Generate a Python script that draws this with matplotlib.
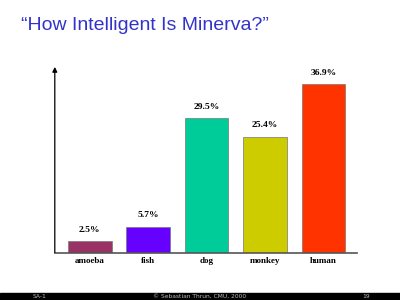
import matplotlib.pyplot as plt
from matplotlib.patches import Rectangle

categories = ["amoeba", "fish", "dog", "monkey", "human"]
values = [2.5, 5.7, 29.5, 25.4, 36.9]
colors = ["#993366", "#6600FF", "#00CC99", "#CCCC00", "#FF3300"]

fig = plt.figure(figsize=(4, 3), dpi=100)
fig.patch.set_facecolor("white")

# title
fig.text(0.052, 0.915, "\u201cHow Intelligent Is Minerva?\u201d", color="#3333CC",
         fontsize=14, family="Liberation Sans", ha="left", va="center")

ax = fig.add_axes([0.137, 0.158, 0.755, 0.619])
x = range(len(categories))
bars = ax.bar(x, values, width=0.75, color=colors, edgecolor="#777777", linewidth=0.5)

for xi, v in zip(x, values):
    ax.text(xi, v + 1.6, f"{v}%", ha="center", va="bottom", fontsize=6.8,
            family="Liberation Serif", fontweight="bold")

ax.set_xlim(-0.595, 4.57)
ax.set_ylim(0, 40.7)
ax.set_xticks(list(x))
ax.set_xticklabels(categories, family="Liberation Serif", fontweight="bold", fontsize=6.5)
ax.tick_params(axis="x", length=0, pad=3)
ax.set_yticks([])

for s in ["top", "right", "left"]:
    ax.spines[s].set_visible(False)
ax.spines["bottom"].set_color("#555555")
ax.spines["bottom"].set_linewidth(1.2)

# y axis with arrow head
ax.annotate("", xy=(0, 1.0), xytext=(0, 0), xycoords="axes fraction",
            arrowprops=dict(arrowstyle="-|>", color="black", lw=0.9,
                            mutation_scale=7, shrinkA=0, shrinkB=0))

# footer bar
fig.patches.append(Rectangle((0, 0), 1, 0.024, transform=fig.transFigure,
                             color="black", zorder=0))
fig.text(0.1, 0.012, "SA-1", color="#bbbbbb", fontsize=4.3, ha="center", va="center")
fig.text(0.5, 0.012, "\u00a9 Sebastian Thrun, CMU, 2000", color="#bbbbbb", fontsize=4.3,
         ha="center", va="center")
fig.text(0.915, 0.012, "19", color="#bbbbbb", fontsize=4.3, ha="center", va="center")

fig.savefig("out.png", dpi=100)
